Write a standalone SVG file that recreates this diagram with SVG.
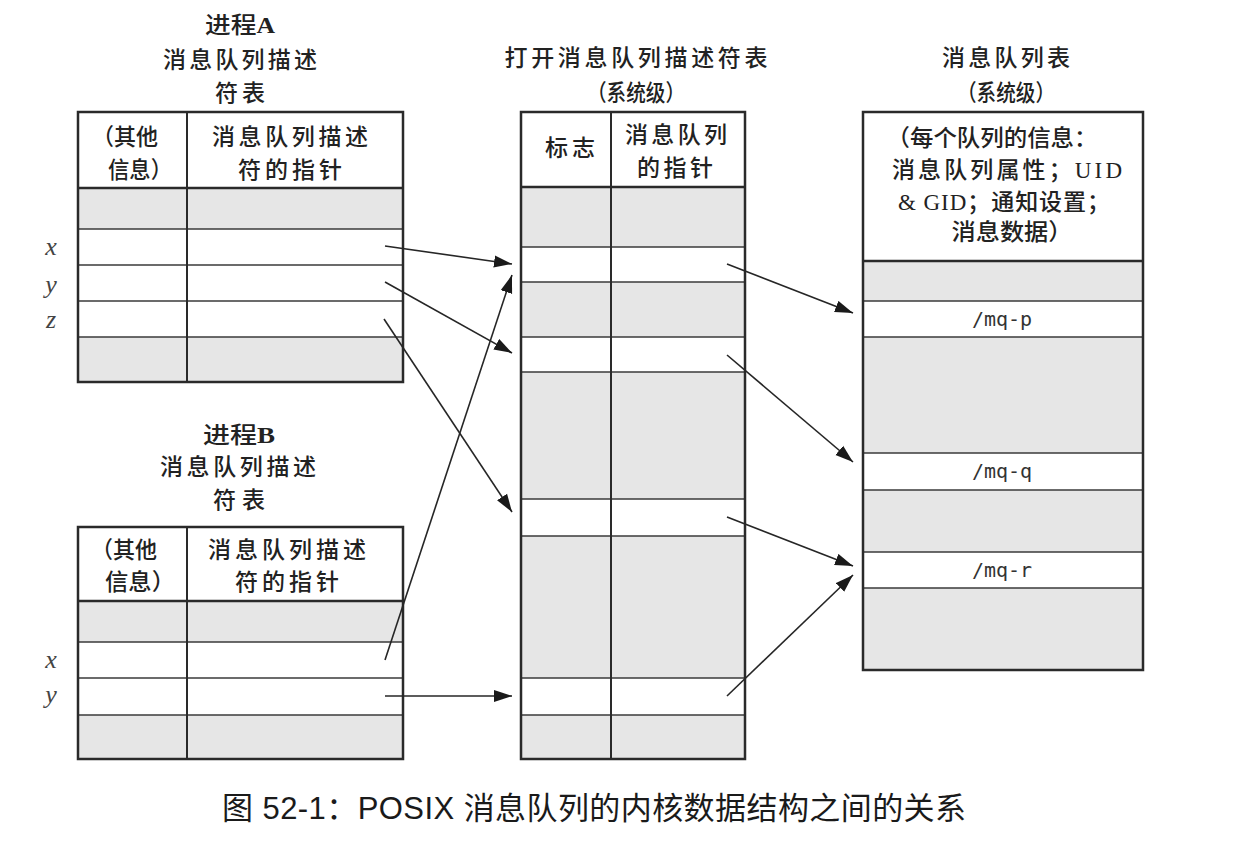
<svg xmlns="http://www.w3.org/2000/svg" width="1237" height="857" viewBox="0 0 1237 857">
<style>
.bg{fill:#ffffff}
.g{fill:#e6e6e6}
.w{fill:#ffffff}
.frame{fill:none;stroke:#2a2a2a;stroke-width:2.5}
.ln{stroke:#3a3a3a;stroke-width:1.5}
.col{stroke:#2a2a2a;stroke-width:2}
.hd{stroke:#2a2a2a;stroke-width:2.5}
.t{font-family:"Liberation Serif","Noto Sans CJK SC",serif;font-size:23px;font-weight:500;fill:#222;text-anchor:middle}
.m{font-family:"DejaVu Sans Mono","Liberation Mono",monospace;font-size:20px;fill:#333;text-anchor:middle}
.v{font-family:"Liberation Serif",serif;font-style:italic;font-size:26px;fill:#444;text-anchor:middle}
.cap{font-family:"Liberation Sans","Noto Sans CJK SC",sans-serif;font-size:31px;fill:#1a1a1a}
.arr{stroke:#262626;stroke-width:1.6;fill:none;marker-end:url(#ah)}
</style>
<defs>
<marker id="ah" markerUnits="userSpaceOnUse" markerWidth="19" markerHeight="13" refX="18" refY="6.5" orient="auto">
<path d="M0,0.5 L18,6.5 L0,12.5 z" fill="#1a1a1a"/>
</marker>
</defs>
<rect class="bg" x="0" y="0" width="1237" height="857"/>

<g id="tableA">
<text class="t" x="240" y="33" textLength="70" lengthAdjust="spacingAndGlyphs">进程<tspan font-weight="bold">A</tspan></text>
<text class="t" x="240" y="68" textLength="154">消息队列描述</text>
<text class="t" x="240" y="101" textLength="50">符表</text>
<rect class="w" x="78" y="112" width="325" height="76"/>
<rect class="g" x="78" y="188" width="325" height="41"/>
<rect class="g" x="78" y="337" width="325" height="45"/>
<text class="t" x="125" y="145" textLength="66" lengthAdjust="spacingAndGlyphs">（其他</text>
<text class="t" x="140" y="178" textLength="64" lengthAdjust="spacingAndGlyphs">信息）</text>
<text class="t" x="290" y="145" textLength="156">消息队列描述</text>
<text class="t" x="290" y="178" textLength="104">符的指针</text>
<line class="hd" x1="78" y1="188" x2="403" y2="188"/>
<line class="ln" x1="78" y1="229" x2="403" y2="229"/>
<line class="ln" x1="78" y1="265" x2="403" y2="265"/>
<line class="ln" x1="78" y1="301" x2="403" y2="301"/>
<line class="ln" x1="78" y1="337" x2="403" y2="337"/>
<line class="col" x1="187" y1="112" x2="187" y2="382"/>
<rect class="frame" x="78" y="112" width="325" height="270"/>
<text class="v" x="51" y="255">x</text>
<text class="v" x="51" y="293">y</text>
<text class="v" x="51" y="328">z</text>
</g>

<g id="tableB">
<text class="t" x="239" y="443" textLength="72" lengthAdjust="spacingAndGlyphs">进程<tspan font-weight="bold">B</tspan></text>
<text class="t" x="238" y="475" textLength="156">消息队列描述</text>
<text class="t" x="239" y="508" textLength="52">符表</text>
<rect class="w" x="78" y="527" width="325" height="74"/>
<rect class="g" x="78" y="601" width="325" height="41"/>
<rect class="g" x="78" y="715" width="325" height="44"/>
<text class="t" x="124" y="558" textLength="66" lengthAdjust="spacingAndGlyphs">（其他</text>
<text class="t" x="140" y="590" textLength="70" lengthAdjust="spacingAndGlyphs">信息）</text>
<text class="t" x="287" y="558" textLength="158">消息队列描述</text>
<text class="t" x="287" y="590" textLength="104">符的指针</text>
<line class="hd" x1="78" y1="601" x2="403" y2="601"/>
<line class="ln" x1="78" y1="642" x2="403" y2="642"/>
<line class="ln" x1="78" y1="678" x2="403" y2="678"/>
<line class="ln" x1="78" y1="715" x2="403" y2="715"/>
<line class="col" x1="187" y1="527" x2="187" y2="759"/>
<rect class="frame" x="78" y="527" width="325" height="232"/>
<text class="v" x="51" y="668">x</text>
<text class="v" x="51" y="703">y</text>
</g>

<g id="openTable">
<text class="t" x="636" y="66" textLength="263">打开消息队列描述符表</text>
<text class="t" x="636" y="101" textLength="98" lengthAdjust="spacingAndGlyphs">（系统级）</text>
<rect class="w" x="521" y="112" width="224" height="75"/>
<rect class="g" x="521" y="187" width="224" height="60"/>
<rect class="g" x="521" y="282" width="224" height="55"/>
<rect class="g" x="521" y="372" width="224" height="127"/>
<rect class="g" x="521" y="536" width="224" height="142"/>
<rect class="g" x="521" y="715" width="224" height="44"/>
<text class="t" x="570" y="156" textLength="50">标志</text>
<text class="t" x="676" y="143" textLength="102">消息队列</text>
<text class="t" x="675" y="176" textLength="76">的指针</text>
<line class="hd" x1="521" y1="187" x2="745" y2="187"/>
<line class="ln" x1="521" y1="247" x2="745" y2="247"/>
<line class="ln" x1="521" y1="282" x2="745" y2="282"/>
<line class="ln" x1="521" y1="337" x2="745" y2="337"/>
<line class="ln" x1="521" y1="372" x2="745" y2="372"/>
<line class="ln" x1="521" y1="499" x2="745" y2="499"/>
<line class="ln" x1="521" y1="536" x2="745" y2="536"/>
<line class="ln" x1="521" y1="678" x2="745" y2="678"/>
<line class="ln" x1="521" y1="715" x2="745" y2="715"/>
<line class="col" x1="611" y1="112" x2="611" y2="759"/>
<rect class="frame" x="521" y="112" width="224" height="647"/>
</g>

<g id="queueTable">
<text class="t" x="1006" y="66" textLength="128">消息队列表</text>
<text class="t" x="1006" y="101" textLength="98" lengthAdjust="spacingAndGlyphs">（系统级）</text>
<rect class="w" x="863" y="112" width="280" height="149"/>
<rect class="g" x="863" y="261" width="280" height="40"/>
<rect class="g" x="863" y="337" width="280" height="116"/>
<rect class="g" x="863" y="490" width="280" height="62"/>
<rect class="g" x="863" y="588" width="280" height="82"/>
<text class="t" x="992" y="146" textLength="211" lengthAdjust="spacingAndGlyphs">（每个队列的信息：</text>
<text class="t" x="1007" y="178" textLength="230">消息队列属性；UID</text>
<text class="t" x="1004" y="210" textLength="212">&amp; GID；通知设置；</text>
<text class="t" x="1012" y="240" textLength="121" lengthAdjust="spacingAndGlyphs">消息数据）</text>
<line class="hd" x1="863" y1="261" x2="1143" y2="261"/>
<line class="ln" x1="863" y1="301" x2="1143" y2="301"/>
<line class="ln" x1="863" y1="337" x2="1143" y2="337"/>
<line class="ln" x1="863" y1="453" x2="1143" y2="453"/>
<line class="ln" x1="863" y1="490" x2="1143" y2="490"/>
<line class="ln" x1="863" y1="552" x2="1143" y2="552"/>
<line class="ln" x1="863" y1="588" x2="1143" y2="588"/>
<text class="m" x="1002" y="326">/mq-p</text>
<text class="m" x="1002" y="478">/mq-q</text>
<text class="m" x="1002" y="577">/mq-r</text>
<rect class="frame" x="863" y="112" width="280" height="558"/>
</g>

<g id="connectors">
<line class="arr" x1="385" y1="246" x2="512" y2="264"/>
<line class="arr" x1="385" y1="282" x2="512" y2="353"/>
<line class="arr" x1="384" y1="319" x2="512" y2="512"/>
<line class="arr" x1="385" y1="660" x2="512" y2="275"/>
<line class="arr" x1="385" y1="696" x2="512" y2="696"/>
<line class="arr" x1="727" y1="264" x2="853" y2="313"/>
<line class="arr" x1="727" y1="355" x2="853" y2="462"/>
<line class="arr" x1="727" y1="517" x2="853" y2="566"/>
<line class="arr" x1="727" y1="696" x2="853" y2="575"/>
</g>

<text class="cap" x="222" y="819" textLength="744">图 52-1：POSIX 消息队列的内核数据结构之间的关系</text>
</svg>
